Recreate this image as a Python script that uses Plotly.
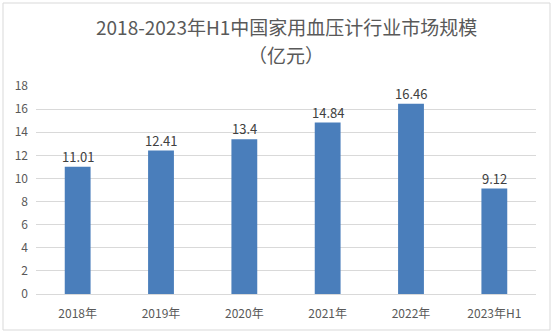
import plotly.graph_objects as go

categories = ["2018年", "2019年", "2020年", "2021年", "2022年", "2023年H1"]
values = [11.01, 12.41, 13.4, 14.84, 16.46, 9.12]
value_labels = ["11.01", "12.41", "13.4", "14.84", "16.46", "9.12"]
title_line1 = "2018-2023年H1中国家用血压计行业市场规模"
title_line2 = "（亿元）"

L, R, T, B = 36, 18, 86, 40
W, H = 554, 334
pw, ph = W - L - R, H - T - B
FONT = "Noto Sans CJK SC"

fig = go.Figure(go.Bar(
    x=categories, y=values,
    marker=dict(color="#4a7ebb", line=dict(width=0)),
))

for c, v, t in zip(categories, values, value_labels):
    fig.add_annotation(x=c, y=v, xref="x", yref="y", text=t, showarrow=False,
                       yanchor="bottom", yshift=-1,
                       font=dict(size=13, color="#404040", family=FONT))

fig.add_annotation(x=0.5, xref="paper", yref="paper", y=(H - B - 26.5) / ph,
                   text=title_line1, showarrow=False, xanchor="center", yanchor="middle",
                   borderpad=0,
                   font=dict(size=19, color="#595959", family=FONT))
fig.add_annotation(x=0.5, xref="paper", yref="paper", y=(H - B - 54) / ph,
                   text=title_line2, showarrow=False, xanchor="center", yanchor="middle",
                   borderpad=0,
                   font=dict(size=19, color="#595959", family=FONT))

fig.update_layout(
    width=W, height=H,
    margin=dict(l=L, r=R, t=T, b=B),
    paper_bgcolor="white", plot_bgcolor="white",
    bargap=0.69,
    showlegend=False,
    font=dict(family=FONT, color="#595959"),
    xaxis=dict(tickfont=dict(size=12, color="#595959"), showline=True,
               linecolor="#d9d9d9", linewidth=1, ticks="", ticklabelstandoff=9),
    yaxis=dict(range=[0, 18], dtick=2, tickfont=dict(size=12, color="#595959"),
               gridcolor="#d9d9d9", gridwidth=1, zeroline=False, ticks="",
               ticklabelstandoff=7),
)

fig.add_shape(type="rect", xref="paper", yref="paper",
              x0=(3 - L) / pw, x1=(550 - L) / pw,
              y0=(H - B - 330) / ph, y1=(H - B - 3) / ph,
              line=dict(color="#d9d9d9", width=1), fillcolor="rgba(0,0,0,0)", layer="below")

fig.write_html("out.html")
